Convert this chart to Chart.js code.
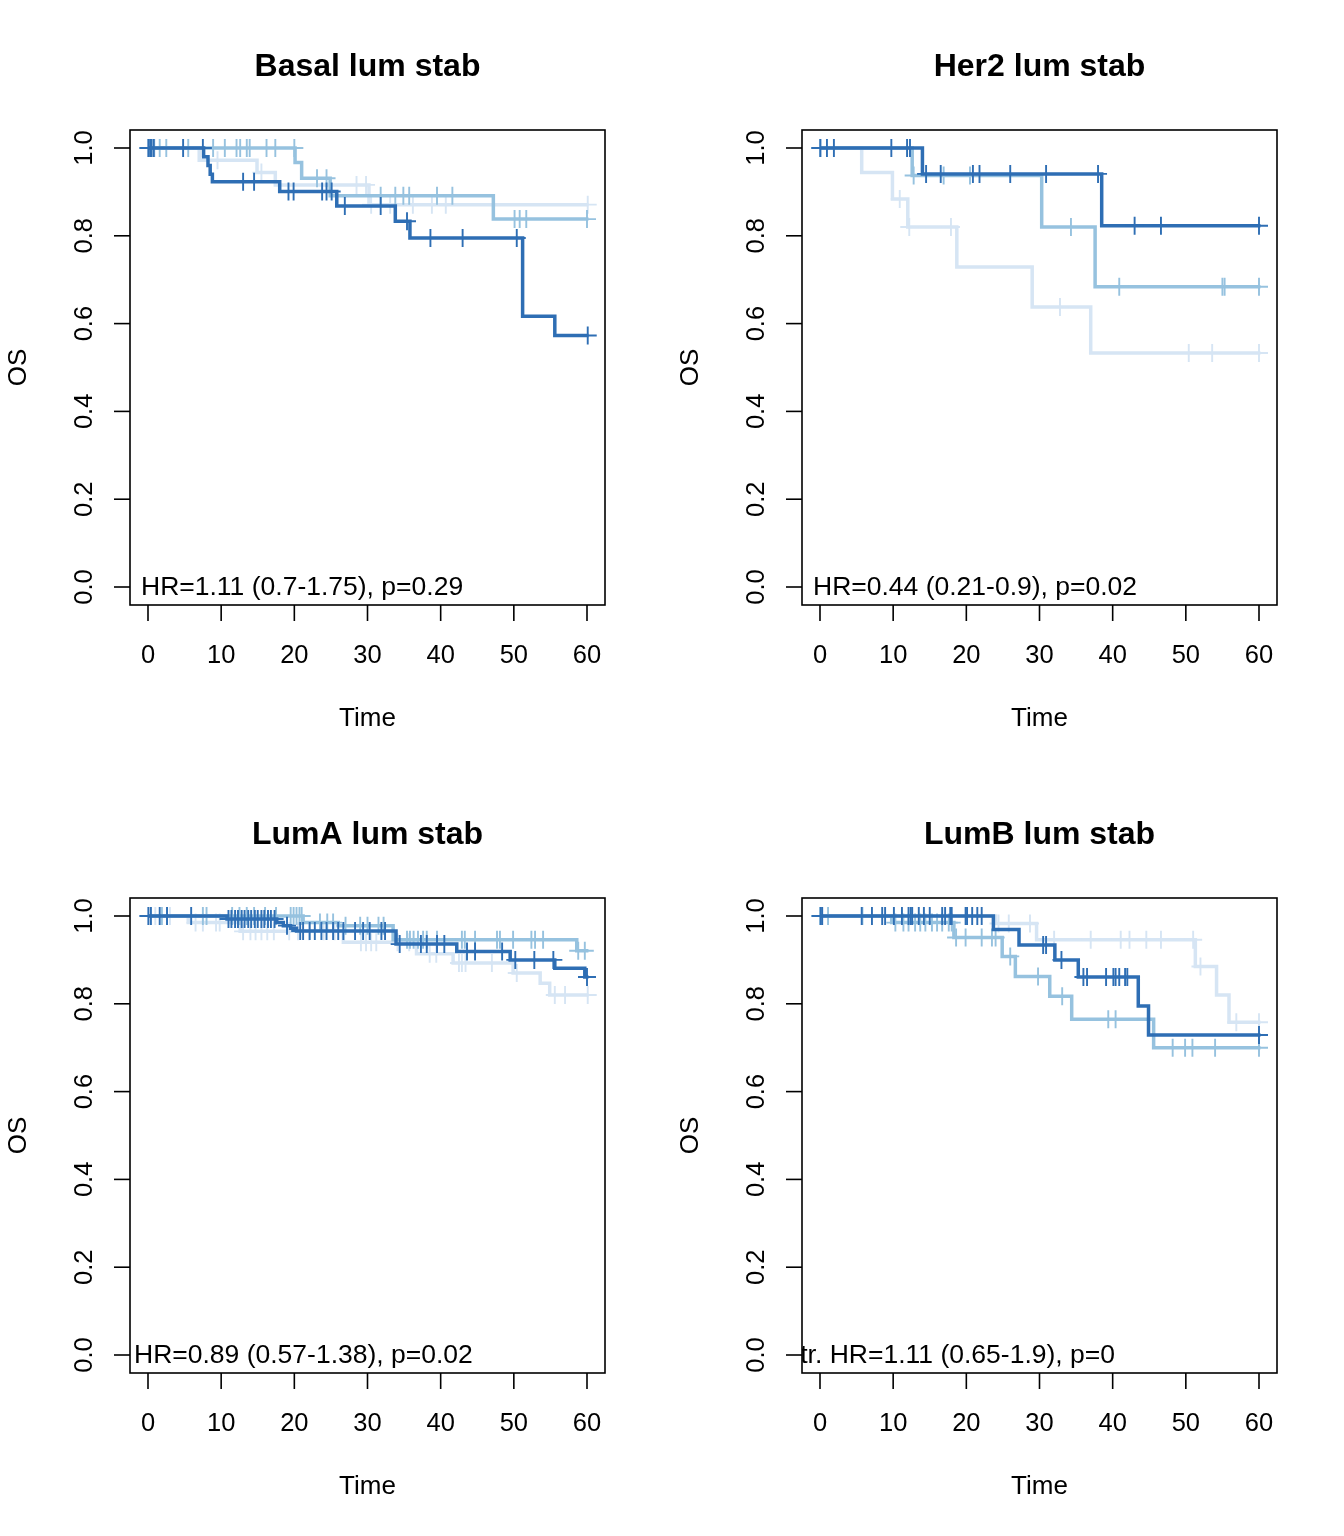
<!DOCTYPE html>
<html><head><meta charset="utf-8">
<script src="https://cdn.jsdelivr.net/npm/chart.js@4/dist/chart.umd.min.js"></script>
<style>
html,body{margin:0;padding:0;background:#fff;}
#wrap{position:relative;width:1344px;height:1536px;background:#fff;}
canvas{position:absolute;}
</style></head><body>
<div id="wrap">
<canvas id="c0" width="672" height="768" style="left:0px;top:0px"></canvas>
<canvas id="c1" width="672" height="768" style="left:672px;top:0px"></canvas>
<canvas id="c2" width="672" height="768" style="left:0px;top:768px"></canvas>
<canvas id="c3" width="672" height="768" style="left:672px;top:768px"></canvas>
</div>
<script>
// ---------- DATA ----------
const panelTitles = ['Basal lum stab', 'Her2 lum stab', 'LumA lum stab', 'LumB lum stab'];
const hrTexts = ['HR=1.11 (0.7-1.75), p=0.29', 'HR=0.44 (0.21-0.9), p=0.02', 'HR=0.89 (0.57-1.38), p=0.02', 'Str. HR=1.11 (0.65-1.9), p=0'];
const xTicks = [0, 10, 20, 30, 40, 50, 60];
const yTicks = [0, 0.2, 0.4, 0.6, 0.8, 1.0];
const yTickLabels = ['0.0', '0.2', '0.4', '0.6', '0.8', '1.0'];
const xLabel = 'Time';
const yLabel = 'OS';

// Basal
const basalDarkTimes = [0, 7.6, 8.2, 8.5, 8.8, 18.0, 25.8, 33.8, 35.8, 51.2, 55.6, 60.2];
const basalDarkSurv  = [1, 0.98, 0.96, 0.94, 0.923, 0.901, 0.868, 0.833, 0.795, 0.617, 0.573, 0.573];
const basalDarkCens  = [0.05, 0.3, 0.5, 0.8, 4.8, 7.5, 13.0, 14.5, 19.2, 19.9, 23.8, 24.4, 25.1, 26.9, 31.8, 35.4, 38.6, 43.0, 50.4, 60.1];
const basalMedTimes  = [0, 20.1, 21.0, 24.9, 47.2, 60.2];
const basalMedSurv   = [1, 0.967, 0.931, 0.891, 0.838, 0.838];
const basalMedCens   = [0.1, 1.6, 2.5, 5.5, 8.9, 10.5, 12.1, 12.6, 13.5, 13.9, 16.2, 17.4, 20.0, 23.1, 24.4, 31.8, 33.8, 34.9, 35.7, 39.5, 41.6, 50.1, 50.8, 51.7, 60.0];
const basalLightTimes = [0, 7.0, 14.9, 17.4, 30.2, 60.2];
const basalLightSurv  = [1, 0.972, 0.944, 0.916, 0.871, 0.871];
const basalLightCens  = [0.4, 0.9, 9.5, 15.5, 28.5, 29.8, 30.5, 33.1, 36.2, 38.8, 40.7, 60.1];

// Her2
const her2DarkTimes = [0, 14.0, 38.5, 60.2];
const her2DarkSurv  = [1, 0.941, 0.823, 0.823];
const her2DarkCens  = [0.05, 0.95, 1.9, 9.75, 11.9, 12.3, 14.5, 16.5, 20.9, 21.8, 26.0, 30.9, 38.0, 43.0, 46.6, 60.0];
const her2MedTimes  = [0, 12.6, 30.3, 37.6, 60.2];
const her2MedSurv   = [1, 0.9375, 0.820, 0.684, 0.684];
const her2MedCens   = [0.0, 12.8, 16.9, 20.5, 34.3, 40.9, 55.0, 55.3, 60.0];
const her2LightTimes = [0, 5.7, 9.9, 12.0, 18.7, 29.0, 37.0, 60.2];
const her2LightSurv  = [1, 0.944, 0.884, 0.820, 0.729, 0.638, 0.533, 0.533];
const her2LightCens  = [0.1, 10.9, 12.2, 17.9, 32.8, 50.4, 53.6, 60.0];

// LumA
const lumaDarkTimes = [0, 10.8, 17.6, 18.5, 19.5, 20.3, 33.9, 42.2, 49.5, 55.6, 59.7, 60.2];
const lumaDarkSurv  = [1, 0.993, 0.985, 0.978, 0.972, 0.966, 0.936, 0.919, 0.900, 0.881, 0.861, 0.861];
const lumaDarkCens  = [0.05, 0.4, 1.6, 2.6, 5.9, 11.0, 11.4, 11.9, 12.3, 12.8, 13.2, 13.7, 14.1, 14.6, 15.0, 15.5, 15.9, 16.4, 16.8, 17.3, 19.0, 20.8, 21.2, 22.1, 22.8, 23.7, 24.4, 25.3, 26.0, 26.7, 28.3, 29.4, 30.3, 31.9, 32.4, 34.4, 37.3, 38.1, 39.5, 40.5, 43.6, 44.7, 48.4, 50.2, 52.8, 55.4, 60.0];
const lumaMedTimes  = [0, 21.2, 26.0, 33.5, 58.6, 60.2];
const lumaMedSurv   = [1, 0.985, 0.978, 0.946, 0.921, 0.921];
const lumaMedCens   = [1.9, 2.6, 7.5, 8.0, 11.5, 12.5, 13.5, 14.5, 16.0, 17.5, 19.5, 19.9, 20.3, 20.7, 21.0, 23.5, 24.5, 25.3, 27.0, 29.0, 30.0, 31.5, 32.2, 35.4, 35.8, 36.3, 36.9, 37.6, 38.1, 39.5, 42.9, 43.3, 44.7, 47.7, 48.1, 49.9, 52.4, 52.9, 54.0, 58.8, 59.7];
const lumaLightTimes = [0, 5.5, 12.6, 26.7, 36.7, 41.7, 49.9, 53.6, 54.9, 60.2];
const lumaLightSurv  = [1, 0.985, 0.965, 0.940, 0.914, 0.893, 0.870, 0.847, 0.820, 0.820];
const lumaLightCens  = [0.3, 1.0, 3.0, 6.5, 7.5, 9.3, 9.8, 13.0, 14.0, 14.7, 15.5, 16.3, 17.2, 19.3, 20.5, 22.0, 24.0, 25.5, 29.1, 29.8, 30.5, 31.2, 34.1, 35.7, 38.5, 39.4, 42.5, 42.9, 43.4, 47.0, 50.4, 55.6, 57.0, 60.1];

// LumB
const lumbDarkTimes = [0, 23.7, 27.2, 32.1, 35.3, 43.5, 44.9, 60.2];
const lumbDarkSurv  = [1, 0.969, 0.934, 0.900, 0.861, 0.795, 0.729, 0.729];
const lumbDarkCens  = [0.1, 0.3, 5.7, 7.1, 8.5, 8.9, 10.1, 11.2, 12.1, 12.4, 12.6, 13.5, 14.2, 15.0, 16.7, 17.1, 17.8, 18.0, 19.9, 20.1, 20.8, 21.5, 22.1, 30.5, 30.9, 33.0, 36.0, 36.5, 39.1, 40.1, 40.4, 40.9, 41.7, 42.0, 60.0];
const lumbMedTimes  = [0, 9.8, 18.3, 24.9, 26.7, 31.4, 34.4, 45.6, 60.2];
const lumbMedSurv   = [1, 0.985, 0.951, 0.908, 0.862, 0.817, 0.765, 0.700, 0.700];
const lumbMedCens   = [0.0, 1.1, 5.8, 10.3, 11.4, 12.1, 13.0, 13.7, 14.4, 15.3, 16.0, 16.7, 17.6, 18.0, 18.6, 19.9, 22.1, 23.5, 24.0, 26.0, 29.8, 33.1, 39.4, 40.4, 48.2, 49.9, 50.9, 54.0, 60.0];
const lumbLightTimes = [0, 24.0, 29.6, 51.3, 54.2, 55.9, 60.2];
const lumbLightSurv  = [1, 0.983, 0.946, 0.885, 0.820, 0.758, 0.758];
const lumbLightCens  = [0.2, 24.4, 25.8, 28.7, 32.0, 37.0, 41.1, 42.3, 44.6, 46.6, 51.0, 52.0, 56.9, 60.0];

// ---------- STYLE / LAYOUT ----------
const COLORS = { dark: '#2E6EB4', med: '#96C2DF', light: '#D6E5F4' };
const FONT = '"Liberation Sans", Arial, Helvetica, sans-serif';
const hrLayout = [
  { x: 141, align: 'left' }, { x: 141, align: 'left' },
  { x: 134, align: 'left' }, { x: 443, align: 'right' }
];

const panels = [
  [[basalDarkTimes, basalDarkSurv, basalDarkCens, 'dark'], [basalMedTimes, basalMedSurv, basalMedCens, 'med'], [basalLightTimes, basalLightSurv, basalLightCens, 'light']],
  [[her2DarkTimes, her2DarkSurv, her2DarkCens, 'dark'], [her2MedTimes, her2MedSurv, her2MedCens, 'med'], [her2LightTimes, her2LightSurv, her2LightCens, 'light']],
  [[lumaDarkTimes, lumaDarkSurv, lumaDarkCens, 'dark'], [lumaMedTimes, lumaMedSurv, lumaMedCens, 'med'], [lumaLightTimes, lumaLightSurv, lumaLightCens, 'light']],
  [[lumbDarkTimes, lumbDarkSurv, lumbDarkCens, 'dark'], [lumbMedTimes, lumbMedSurv, lumbMedCens, 'med'], [lumbLightTimes, lumbLightSurv, lumbLightCens, 'light']]
];

function survAt(times, surv, t) {
  let s = surv[0];
  for (let i = 0; i < times.length; i++) { if (times[i] <= t) s = surv[i]; }
  return s;
}

function buildDatasets(series) {
  const ds = [];
  series.forEach((s, k) => {
    const [times, surv, cens, col] = s;
    const c = COLORS[col];
    ds.push({
      type: 'line', data: cens.map(t => ({ x: t, y: survAt(times, surv, t) })),
      showLine: false, pointStyle: 'cross', pointRadius: 9, pointHoverRadius: 9,
      pointBorderColor: c, pointBorderWidth: 1.9, borderColor: c, order: k * 2
    });
    ds.push({
      type: 'line', data: times.map((t, i) => ({ x: t, y: surv[i] })),
      stepped: true, borderColor: c, borderWidth: 3.5, pointRadius: 0, fill: false,
      borderJoinStyle: 'miter', borderCapStyle: 'butt', order: k * 2 + 1
    });
  });
  return ds;
}

function decorPlugin(idx) {
  return {
    id: 'decor' + idx,
    afterDatasetsDraw(chart) {
      const ctx = chart.ctx, a = chart.chartArea;
      const xs = chart.scales.x, ys = chart.scales.y;
      const cx = (a.left + a.right) / 2;
      ctx.save();
      // HR text, clipped to plot region
      ctx.save();
      ctx.beginPath(); ctx.rect(a.left, a.top, a.right - a.left, a.bottom - a.top); ctx.clip();
      ctx.fillStyle = '#000'; ctx.font = '26.5px ' + FONT;
      ctx.textBaseline = 'middle'; ctx.textAlign = hrLayout[idx].align;
      ctx.fillText(hrTexts[idx], hrLayout[idx].x, ys.getPixelForValue(0) + 1);
      ctx.restore();
      // box
      ctx.strokeStyle = '#000'; ctx.lineWidth = 1.6;
      ctx.strokeRect(a.left, a.top, a.right - a.left, a.bottom - a.top);
      // x ticks
      ctx.fillStyle = '#000'; ctx.font = '25.5px ' + FONT;
      ctx.textAlign = 'center'; ctx.textBaseline = 'middle';
      xTicks.forEach(v => {
        const px = xs.getPixelForValue(v);
        ctx.beginPath(); ctx.moveTo(px, a.bottom); ctx.lineTo(px, a.bottom + 16); ctx.stroke();
        ctx.fillText(String(v), px, 656);
      });
      // y ticks
      yTicks.forEach((v, i) => {
        const py = ys.getPixelForValue(v);
        ctx.beginPath(); ctx.moveTo(a.left, py); ctx.lineTo(a.left - 16, py); ctx.stroke();
        ctx.save(); ctx.translate(85, py); ctx.rotate(-Math.PI / 2);
        ctx.fillText(yTickLabels[i], 0, 0); ctx.restore();
      });
      // axis titles
      ctx.font = '26px ' + FONT;
      ctx.fillText(xLabel, cx, 719);
      ctx.save(); ctx.translate(19, (a.top + a.bottom) / 2); ctx.rotate(-Math.PI / 2);
      ctx.fillText(yLabel, 0, 0); ctx.restore();
      // main title
      ctx.font = 'bold 32px ' + FONT;
      ctx.fillText(panelTitles[idx], cx, 67);
      ctx.restore();
    }
  };
}

panels.forEach((series, idx) => {
  new Chart(document.getElementById('c' + idx), {
    type: 'line',
    data: { datasets: buildDatasets(series) },
    options: {
      responsive: false, animation: false, devicePixelRatio: 1,
      layout: { padding: { left: 130, right: 67, top: 130, bottom: 163 } },
      scales: {
        x: { type: 'linear', min: -2.46, max: 62.46, display: false },
        y: { type: 'linear', min: -0.041, max: 1.041, display: false }
      },
      plugins: { legend: { display: false }, tooltip: { enabled: false } },
      events: []
    },
    plugins: [decorPlugin(idx)]
  });
});
</script>
</body></html>
